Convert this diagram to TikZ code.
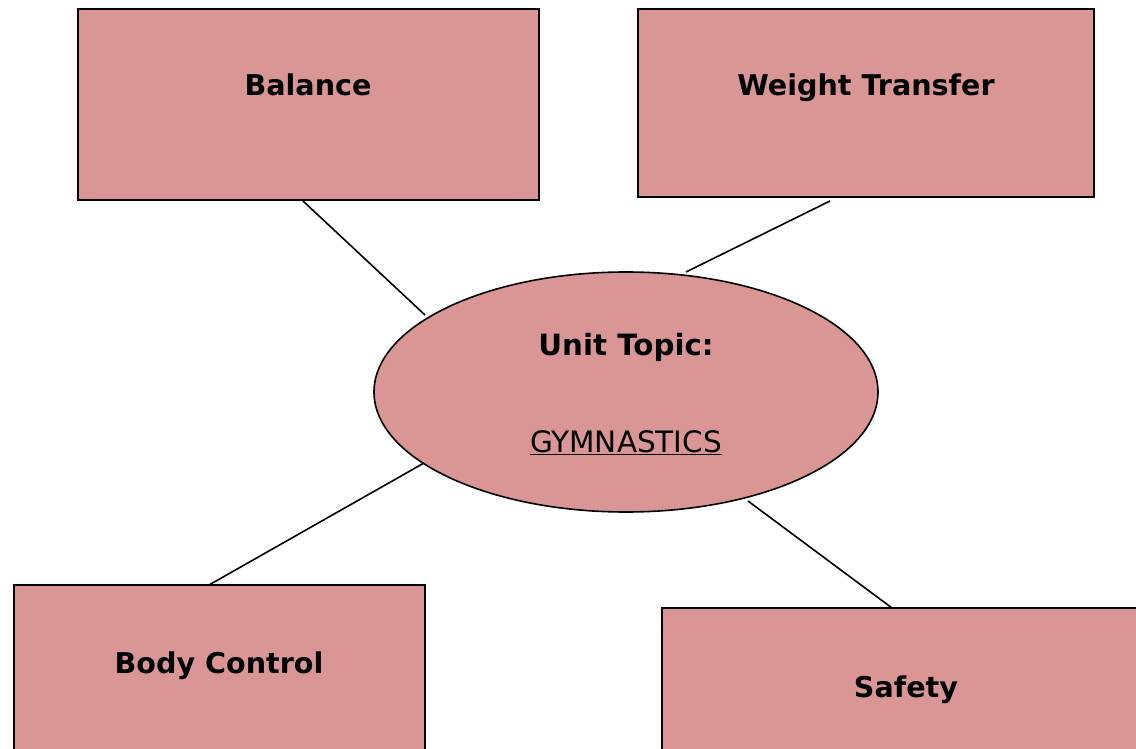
\documentclass[tikz,border=0pt]{standalone}
\usepackage{fontspec}
\setmainfont{DejaVu Sans}
\usetikzlibrary{shapes.geometric}
\definecolor{boxpink}{HTML}{D99694}
\tikzset{
  topicbox/.style={draw=black, fill=boxpink, line width=1.6pt, rectangle, inner sep=0pt},
  topiclabel/.style={anchor=base, inner sep=0pt, font=\fontsize{28.6}{32}\selectfont\bfseries},
  link/.style={draw=black, line width=1.6pt}
}
\begin{document}
\begin{tikzpicture}[x=1pt,y=-1pt]
\useasboundingbox (0,0) rectangle (1136,749);
\clip (0,0) rectangle (1136,749);
\fill[white] (0,0) rectangle (1136,749);
% boxes
\node[topicbox, minimum width=461pt, minimum height=191pt] (balance) at (308.5,104.5) {};
\node[topicbox, minimum width=456pt, minimum height=188pt] (weight) at (866,103) {};
\node[topicbox, minimum width=411pt, minimum height=190pt] (body) at (219.5,680) {};
\node[topicbox, minimum width=490pt, minimum height=170pt] (safety) at (907,693) {};
% ellipse
\node[ellipse, draw=black, fill=boxpink, line width=1.6pt, minimum width=504pt, minimum height=240pt, inner sep=0pt] (unit) at (626,392) {};
% labels
\node[topiclabel] (lbalance) at (308,96) {Balance};
\node[topiclabel] (lweight) at (866,96) {Weight Transfer};
\node[topiclabel] (lbody) at (219,673) {Body Control};
\node[topiclabel] (lsafety) at (906,697) {Safety};
\node[anchor=base, inner sep=0pt, font=\fontsize{29.3}{32}\selectfont\bfseries] (ltopic) at (626,355) {Unit Topic:};
\node[anchor=base, inner sep=0pt, font=\fontsize{29.5}{32}\selectfont] (lgym) at (626,452) {\underline{GYMNASTICS}};
% connector end points
\coordinate (c1) at (303,201);
\coordinate (c2) at (425,315);
\coordinate (c3) at (830,201);
\coordinate (c4) at (686,272);
\coordinate (c5) at (424,463);
\coordinate (c6) at (209,585);
\coordinate (c7) at (748,501);
\coordinate (c8) at (892,608);
\draw[link] (c1) -- (c2);
\draw[link] (c3) -- (c4);
\draw[link] (c5) -- (c6);
\draw[link] (c7) -- (c8);
\end{tikzpicture}
\end{document}
